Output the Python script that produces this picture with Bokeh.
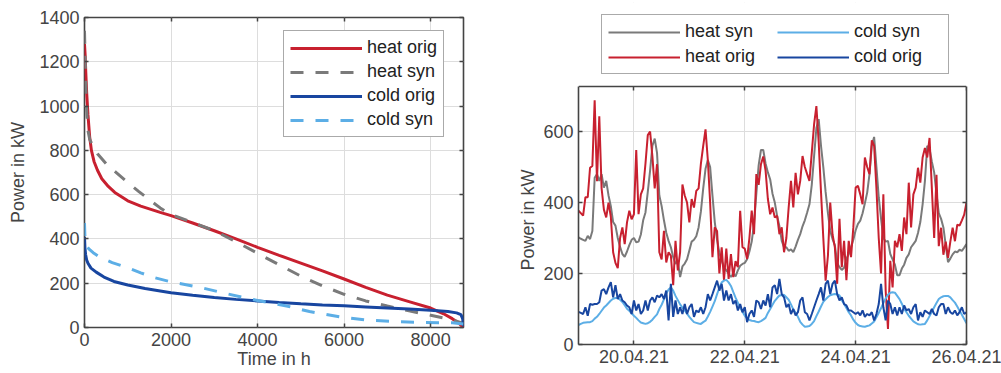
import pandas as pd
from bokeh.plotting import figure
from bokeh.models import (Legend, LegendItem, LinearAxis, DatetimeAxis, FixedTicker,
                          Range1d, DatetimeTickFormatter, Span, BoxAnnotation, Title)
from bokeh.embed import file_html
from bokeh.resources import INLINE

# ---------------- left: load duration curves ----------------
ldc_h_heat_orig = [0, 15, 30, 50, 80, 120, 160, 220, 300, 400, 550, 700, 1000, 1300, 1750, 2000,
                   2500, 3000, 3500, 4000, 4500, 5000, 5500, 6000, 6500, 7000, 7500, 8000, 8300,
                   8500, 8650, 8760]
ldc_v_heat_orig = [1280, 1230, 1150, 1060, 960, 860, 800, 750, 710, 672, 637, 610, 572, 548, 520, 505,
                   472, 437, 400, 362, 326, 291, 256, 219, 181, 146, 117, 88, 62,
                   40, 20, 0]

ldc_h_heat_syn = [0, 10, 20, 35, 55, 80, 120, 180, 300, 500, 700, 1000, 1250, 1500, 1750, 2000,
                  2500, 3000, 3500, 4000, 4500, 5000, 5500, 6000, 6500, 7000, 7500, 8000, 8500, 8760]
ldc_v_heat_syn = [1340, 1250, 1170, 1060, 960, 890, 850, 825, 785, 740, 705, 655, 615, 577, 540, 510,
                  475, 437, 388, 335, 283, 232, 188, 150, 120, 97, 75, 55, 35, 18]

ldc_h_cold_orig = [0, 10, 25, 50, 80, 150, 270, 450, 680, 1000, 1400, 1750, 2000, 2500, 3000, 3500,
                   4000, 4500, 5000, 5500, 6000, 6500, 7000, 7500, 8000, 8400, 8600, 8700, 8740, 8760]
ldc_v_cold_orig = [410, 360, 330, 305, 290, 268, 250, 228, 208, 192, 176, 165, 157, 146, 136, 127,
                   120, 113, 107, 102, 98, 93, 88, 83, 78, 72, 66, 58, 40, 5]

ldc_h_cold_syn = [0, 8, 20, 50, 100, 200, 360, 640, 1000, 1300, 1600, 2000, 2700, 3300, 4000, 4700,
                  5200, 5900, 6500, 7200, 7800, 8500, 8760]
ldc_v_cold_syn = [472, 420, 385, 368, 355, 338, 317, 293, 270, 247, 226, 206, 180, 152, 122, 96,
                  72, 48, 34, 26, 23, 21, 16]

ldc_xticks = [0, 2000, 4000, 6000, 8000]
ldc_yticks = [0, 200, 400, 600, 800, 1000, 1200, 1400]

# ---------------- right: one week, hourly ----------------
ts_start = "2021-04-19 00:00"
ts_heat_orig = [
    377, 370, 363, 415, 415, 498, 503, 688, 460, 643, 440, 380, 358, 400, 360, 260, 230, 215, 300, 330, 283, 344, 377, 353,
    367, 548, 367, 423, 440, 510, 590, 600, 530, 440, 508, 260, 240, 320, 231, 260, 250, 167, 292, 209, 260, 451, 420, 400,
    344, 410, 386, 433, 440, 510, 560, 606, 520, 400, 246, 330, 320, 200, 274, 181, 270, 185, 255, 190, 235, 218, 377, 274,
    270, 241, 300, 377, 311, 480, 450, 508, 530, 490, 410, 367, 386, 358, 363, 311, 330, 260, 300, 386, 461, 386, 484, 423,
    461, 531, 500, 480, 461, 540, 620, 672, 570, 430, 300, 180, 250, 400, 310, 274, 171, 354, 218, 292, 181, 292, 246, 330,
    442, 447, 423, 395, 527, 500, 480, 575, 560, 440, 300, 200, 423, 152, 44, 236, 161, 292, 274, 311, 264, 358, 311, 456,
    330, 423, 442, 498, 456, 527, 554, 527, 582, 440, 300, 478, 277, 329, 253, 290, 244, 290, 329, 291, 338, 335, 350, 366,
    400]
ts_heat_syn = [
    302, 298, 295, 292, 306, 297, 320, 470, 480, 461, 480, 442, 461, 420, 390, 345, 335, 300, 275, 255, 247, 262, 280, 295,
    300, 288, 290, 310, 350, 372, 430, 490, 560, 580, 540, 420, 390, 350, 315, 292, 274, 246, 227, 236, 190, 220, 228, 240,
    265, 290, 295, 305, 330, 375, 440, 495, 520, 500, 420, 345, 295, 258, 236, 218, 209, 200, 190, 200, 192, 209, 222, 227,
    230, 240, 262, 290, 340, 425, 505, 548, 548, 510, 485, 465, 425, 400, 362, 333, 292, 274, 274, 264, 268, 260, 276, 295,
    311, 333, 350, 372, 395, 450, 530, 610, 635, 560, 500, 430, 370, 320, 297, 280, 230, 218, 210, 216, 242, 255, 274, 295,
    322, 340, 349, 370, 398, 428, 480, 560, 585, 500, 415, 355, 300, 290, 292, 255, 240, 225, 195, 195, 214, 225, 244, 254,
    274, 283, 292, 314, 345, 395, 461, 560, 552, 515, 485, 425, 370, 354, 330, 280, 232, 242, 254, 262, 260, 267, 264, 273,
    283]
ts_cold_orig = [
    92, 89, 86, 105, 81, 114, 112, 114, 114, 119, 152, 156, 142, 161,
    176, 133, 167, 128, 142, 124, 119, 110, 105, 86, 124, 96, 114, 86, 96, 124, 96, 124, 133, 119, 138, 133,
    142, 128, 152, 68, 171, 78, 124, 86, 105, 86, 114, 86, 105, 114, 78, 96, 91, 105, 86, 105, 142, 124, 142, 161,
    180, 152, 171, 124, 152, 124, 142, 114, 124, 96, 114, 91, 105, 63, 86, 96, 78, 124, 119, 100, 124, 110, 142, 105, 161,
    167, 142, 185, 142, 133, 105, 114, 86, 100, 82, 91, 124, 133, 91, 86, 68, 86, 105, 124, 142, 161, 124, 171, 180,
    142, 171, 180, 142, 124, 133, 114, 110, 96, 96, 91, 86, 91, 82, 96, 78, 86, 82, 91, 68, 86, 114, 171, 105, 68, 124,
    114, 86, 105, 82, 105, 86, 110, 96, 100, 86, 105, 114, 68, 91, 78, 96, 91, 86, 100, 86, 82, 105, 114,
    114, 86, 105, 91, 86, 96, 82, 91, 105, 86, 91]
ts_cold_syn = [
    55, 58, 61, 62, 63, 63, 66, 73, 78, 86, 95, 104, 110, 117, 124, 129, 131, 132, 126, 120, 111, 101, 95, 88,
    81, 75, 68, 62, 60, 58, 60, 64, 70, 78, 85, 100, 112, 127, 144, 155, 161, 152, 137, 125, 113, 104, 96, 87,
    78, 70, 63, 61, 59, 58, 63, 67, 79, 92, 107, 122, 142, 160, 175, 180, 182, 175, 165, 148, 132, 118, 104, 92,
    81, 74, 69, 67, 66, 64, 63, 66, 70, 75, 89, 100, 112, 123, 131, 138, 139, 140, 133, 126, 113, 99, 90, 78,
    64, 56, 50, 51, 52, 58, 66, 80, 93, 107, 120, 127, 134, 139, 141, 142, 141, 138, 125, 114, 103, 91, 82, 70,
    61, 55, 52, 51, 50, 52, 54, 59, 65, 77, 89, 102, 117, 130, 140, 146, 147, 146, 137, 128, 115, 100, 91, 81,
    73, 65, 61, 57, 56, 57, 58, 68, 80, 92, 105, 117, 128, 133, 136, 137, 137, 133, 125, 118, 107, 95, 84, 72,
    60]
ts_tick_labels = ["20.04.21", "22.04.21", "24.04.21", "26.04.21"]
ts_yticks = [0, 200, 400, 600]
ts_ymax = 727

# ---------------- styling ----------------
RED, GREY, DBLUE, LBLUE = "#c8202f", "#7a7a7a", "#1846a0", "#5caee6"
AX = "#444444"
FONT = "Liberation Sans"
FS = "18px"


def style_main_axis(ax):
    ax.axis_line_color = None
    ax.major_tick_in = 4
    ax.major_tick_out = 0
    ax.major_tick_line_color = AX
    ax.major_tick_line_width = 1.5
    ax.minor_tick_line_color = None
    ax.major_label_text_font = FONT
    ax.major_label_text_font_size = FS
    ax.major_label_text_color = AX
    ax.axis_label_text_font = FONT
    ax.axis_label_text_font_size = FS
    ax.axis_label_text_color = AX
    ax.axis_label_text_font_style = "normal"
    ax.major_label_standoff = 5


def mirror_axis(cls, ticker, ticks, **kw):
    return cls(ticker=ticker, major_label_overrides={t: "" for t in ticks},
               axis_line_color=None, major_tick_in=4, major_tick_out=0,
               major_tick_line_color=AX, major_tick_line_width=1.5,
               minor_tick_line_color=None, major_label_standoff=0, **kw)


def style_grid(p, xticker, yticker):
    p.xgrid.ticker = xticker
    p.ygrid.ticker = yticker
    for g in (p.xgrid, p.ygrid):
        g.grid_line_color = "#dddddd"
        g.grid_line_width = 1


def style_legend(leg):
    leg.label_text_font = FONT
    leg.label_text_font_size = FS
    leg.label_text_color = "#222222"
    leg.border_line_color = "#555555"
    leg.border_line_width = 1.2
    leg.background_fill_color = "white"
    leg.background_fill_alpha = 1
    leg.glyph_width = 72
    leg.glyph_height = 20
    leg.label_height = 20
    leg.padding = 6
    leg.spacing = 3
    leg.margin = 0


# ---------------- left figure ----------------
p1 = figure(width=500, height=373, x_range=Range1d(0, 8760), y_range=Range1d(0, 1400),
            min_border_left=84, min_border_right=37, min_border_top=17, min_border_bottom=46,
            output_backend="svg", toolbar_location=None)
p1.outline_line_color = AX
p1.outline_line_width = 1.6
xt1, yt1 = FixedTicker(ticks=ldc_xticks), FixedTicker(ticks=ldc_yticks)
style_grid(p1, xt1, yt1)
b1, l1 = p1.below[0], p1.left[0]
style_main_axis(b1)
style_main_axis(l1)
b1.ticker, l1.ticker = xt1, yt1
b1.axis_label = "Time in h"
l1.axis_label = "Power in kW"
b1.axis_label_standoff = 0
l1.axis_label_standoff = 8
p1.add_layout(mirror_axis(LinearAxis, xt1, ldc_xticks), "above")
p1.add_layout(mirror_axis(LinearAxis, yt1, ldc_yticks), "right")

r_ho = p1.line(ldc_h_heat_orig, ldc_v_heat_orig, line_color=RED, line_width=3)
r_hs = p1.line(ldc_h_heat_syn, ldc_v_heat_syn, line_color=GREY, line_width=3, line_dash="13 12")
r_co = p1.line(ldc_h_cold_orig, ldc_v_cold_orig, line_color=DBLUE, line_width=3)
r_cs = p1.line(ldc_h_cold_syn, ldc_v_cold_syn, line_color=LBLUE, line_width=3, line_dash="13 12")

leg1 = Legend(items=[LegendItem(label="heat orig", renderers=[r_ho]),
                     LegendItem(label="heat syn", renderers=[r_hs]),
                     LegendItem(label="cold orig", renderers=[r_co]),
                     LegendItem(label="cold syn", renderers=[r_cs])],
              location=(199, 190))
style_legend(leg1)
p1.add_layout(leg1, "center")

# ---------------- right figure ----------------
# frame reaches up to the legend; the axes box itself spans 0..ts_ymax
F_TOP, F_BOT, BOX_TOP, H = 2, 344, 86, 373
LEG_BOTTOM = 74
y_top = ts_ymax * (F_BOT - F_TOP) / (F_BOT - BOX_TOP)

times = pd.date_range(ts_start, periods=len(ts_heat_orig), freq="h")
tick_ms = [pd.to_datetime(t, format="%d.%m.%y").timestamp() * 1000 for t in ts_tick_labels]
fmt_str = "%d.%m.%y"
dfmt = DatetimeTickFormatter(microseconds=fmt_str, milliseconds=fmt_str, seconds=fmt_str,
                             minsec=fmt_str, minutes=fmt_str, hourmin=fmt_str, hours=fmt_str,
                             days=fmt_str, months=fmt_str, years=fmt_str)

p2 = figure(width=501, height=H, x_axis_type="datetime",
            x_range=Range1d(times[0], times[-1]), y_range=Range1d(0, y_top),
            min_border_left=78, min_border_right=35, min_border_top=F_TOP,
            min_border_bottom=H - F_BOT, output_backend="svg", toolbar_location=None)
p2.outline_line_color = None
xt2, yt2 = FixedTicker(ticks=tick_ms), FixedTicker(ticks=ts_yticks)
style_grid(p2, xt2, yt2)
b2, l2 = p2.below[0], p2.left[0]
style_main_axis(b2)
style_main_axis(l2)
b2.ticker, l2.ticker = xt2, yt2
b2.formatter = dfmt
b2.axis_line_color = AX
b2.axis_line_width = 1.6
l2.axis_line_color = AX
l2.axis_line_width = 1.6
l2.bounds = (0, ts_ymax)
r_ax = mirror_axis(LinearAxis, yt2, ts_yticks)
r_ax.axis_line_color = AX
r_ax.axis_line_width = 1.6
r_ax.bounds = (0, ts_ymax)
p2.add_layout(r_ax, "right")
p2.add_layout(mirror_axis(DatetimeAxis, xt2, tick_ms, fixed_location=ts_ymax), "above")

# y label of the right axes box, placed along the box (not the taller frame)
LABEL_BOTTOM = 270
ylab = Title(text="Power in kW", align="left", text_font=FONT, text_font_size=FS,
             text_font_style="normal", text_color=AX, standoff=6,
             offset=F_BOT - LABEL_BOTTOM)
p2.add_layout(ylab, "left")

s_hs = p2.line(times, ts_heat_syn, line_color=GREY, line_width=2)
s_ho = p2.line(times, ts_heat_orig, line_color=RED, line_width=2)
s_cs = p2.line(times, ts_cold_syn, line_color=LBLUE, line_width=2)
s_co = p2.line(times, ts_cold_orig, line_color=DBLUE, line_width=2)

# blank the area above the axes box, then draw its top edge
p2.add_layout(BoxAnnotation(bottom=ts_ymax, fill_color="white", fill_alpha=1,
                            line_color=None))
p2.add_layout(Span(location=ts_ymax, dimension="width", line_color=AX, line_width=1.6))

leg2 = Legend(items=[LegendItem(label="heat syn", renderers=[s_hs]),
                     LegendItem(label="heat orig", renderers=[s_ho]),
                     LegendItem(label="cold syn", renderers=[s_cs]),
                     LegendItem(label="cold orig", renderers=[s_co])],
              location=(23, F_BOT - LEG_BOTTOM), ncols=2)
style_legend(leg2)
leg2.label_width = 88
leg2.spacing = 4
p2.add_layout(leg2, "center")

# place the two independent figures side by side (no frame alignment)
p1.styles = {"position": "absolute", "left": "0px", "top": "0px"}
p2.styles = {"position": "absolute", "left": "500px", "top": "0px"}

open("out.html", "w").write(file_html([p1, p2], INLINE))
